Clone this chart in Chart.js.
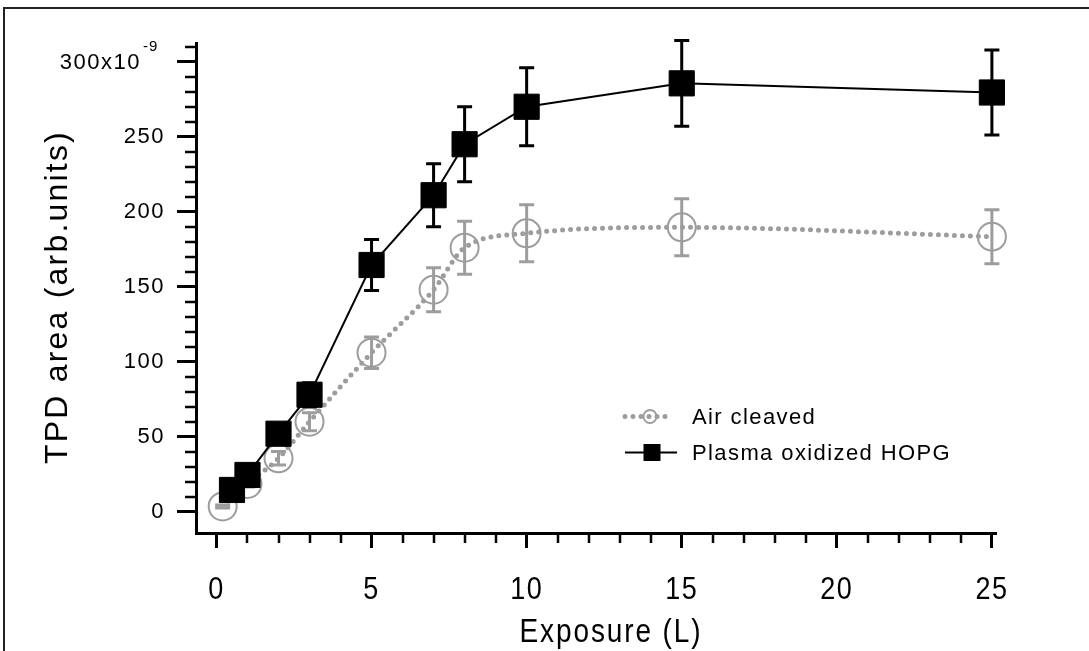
<!DOCTYPE html>
<html>
<head>
<meta charset="utf-8">
<script src="https://cdn.jsdelivr.net/npm/chart.js@4/dist/chart.umd.min.js"></script>
<style>
html,body{margin:0;padding:0;background:#fff;}
#wrap{width:1089px;height:651px;position:relative;}
canvas{display:block;}
</style>
</head>
<body>
<div id="wrap"><canvas id="c" width="1089" height="651"></canvas></div>
<script>
// ---- data (x10^-9 arb. units) ----
const airLabel = 'Air cleaved';
const airX   = [0.2, 1, 2, 3, 5, 7, 8, 10, 15, 25];
const airY   = [3.5, 18.5, 35.6, 60, 106, 148, 176, 185.6, 189.6, 183.4];
const airErr = [1, 2, 4.5, 6, 10.5, 14.7, 17.7, 19, 19, 18];

const plasmaLabel = 'Plasma oxidized HOPG';
const plasmaX   = [0.5, 1, 2, 3, 5, 7, 8, 10, 15, 25];
const plasmaY   = [14.5, 24.5, 52, 78, 164.5, 211, 245, 270, 285.6, 279.5];
const plasmaErr = [3, 4, 6, 8, 17, 21, 25, 26, 28.6, 28.3];

// ---- axes / tick labels ----
const xMajorTicks = [0, 5, 10, 15, 20, 25];
const xTickLabels = ['0', '5', '10', '15', '20', '25'];
const xMinorStep = 1;
const yMajorTicks = [0, 50, 100, 150, 200, 250, 300];
const yTickLabels = ['0', '50', '100', '150', '200', '250', '300x10'];
const yExponent = '-9';
const yMinorStep = 10;
const yMinorMax = 310;
const xTitle = 'Exposure (L)';
const yTitle = 'TPD area (arb.units)';

const FONT = "'Liberation Sans', Arial, Helvetica, sans-serif";
const GRAY = '#9d9d9d';
const BLACK = '#000000';

const toPts = (xs, ys) => xs.map((x, i) => ({x: x, y: ys[i]}));

const textSpacing = {
  id: 'textSpacing',
  beforeDraw(chart) {
    chart.ctx.letterSpacing = '1.5px';
    const s = chart.scales.x;
    if (!s._stretched) {
      const orig = s.drawLabels;
      s.drawLabels = function (area) {
        const c = this.ctx, cy = 590;
        c.save();
        c.translate(0, cy); c.scale(1, 1.19); c.translate(0, -cy);
        orig.call(this, area);
        c.restore();
      };
      s._stretched = true;
    }
  }
};

const frame = {
  id: 'frame',
  beforeDraw(chart) {
    const ctx = chart.ctx;
    ctx.save();
    ctx.strokeStyle = '#222';
    ctx.lineWidth = 2;
    ctx.beginPath();
    ctx.moveTo(4, chart.height);
    ctx.lineTo(4, 8);
    ctx.lineTo(chart.width, 8);
    ctx.stroke();
    ctx.restore();
  }
};

const errorBars = {
  id: 'errorBars',
  beforeDatasetDraw(chart, args) {
    const ds = chart.data.datasets[args.index];
    if (!ds.errors) return;
    const ctx = chart.ctx, xs = chart.scales.x, ys = chart.scales.y;
    ctx.save();
    ctx.strokeStyle = ds.errColor;
    ctx.lineWidth = 3;
    ctx.lineCap = 'butt';
    ds.data.forEach((p, i) => {
      const e = ds.errors[i];
      const px = xs.getPixelForValue(p.x);
      const t = ys.getPixelForValue(p.y + e);
      const b = ys.getPixelForValue(p.y - e);
      ctx.beginPath();
      ctx.moveTo(px, t); ctx.lineTo(px, b);
      ctx.moveTo(px - 7.5, t); ctx.lineTo(px + 7.5, t);
      ctx.moveTo(px - 7.5, b); ctx.lineTo(px + 7.5, b);
      ctx.stroke();
    });
    ctx.restore();
  }
};

const axisExtras = {
  id: 'axisExtras',
  afterDraw(chart) {
    const ctx = chart.ctx, xs = chart.scales.x, ys = chart.scales.y;
    const ca = chart.chartArea;
    ctx.save();
    // minor ticks
    ctx.strokeStyle = BLACK;
    ctx.lineWidth = 2.5;
    ctx.beginPath();
    for (let v = 0; v <= xMajorTicks[xMajorTicks.length - 1]; v += xMinorStep) {
      if (xMajorTicks.includes(v)) continue;
      const px = Math.round(xs.getPixelForValue(v));
      ctx.moveTo(px, ca.bottom); ctx.lineTo(px, ca.bottom + 10);
    }
    for (let v = 0; v <= yMinorMax; v += yMinorStep) {
      if (yMajorTicks.includes(v)) continue;
      const py = Math.round(ys.getPixelForValue(v));
      ctx.moveTo(ca.left, py); ctx.lineTo(ca.left - 11, py);
    }
    ctx.stroke();
    ctx.fillStyle = BLACK;
    // top y label with exponent
    const yTop = ys.getPixelForValue(yMajorTicks[yMajorTicks.length - 1]);
    ctx.letterSpacing = '1.5px';
    ctx.textBaseline = 'middle';
    ctx.textAlign = 'right';
    ctx.font = '22px ' + FONT;
    ctx.fillText(yTickLabels[yTickLabels.length - 1], 141, yTop + 1);
    ctx.font = '15px ' + FONT;
    ctx.letterSpacing = '1px';
    ctx.textAlign = 'left';
    ctx.fillText(yExponent, 143, yTop - 15);
    // axis titles
    ctx.textAlign = 'center';
    ctx.textBaseline = 'alphabetic';
    ctx.save();
    ctx.translate(611, 642);
    ctx.scale(1, 1.2);
    ctx.font = '28px ' + FONT;
    ctx.letterSpacing = '1.9px';
    ctx.fillText(xTitle, 0, 0);
    ctx.restore();
    ctx.save();
    ctx.translate(66.5, 297);
    ctx.rotate(-Math.PI / 2);
    ctx.font = '32px ' + FONT;
    ctx.letterSpacing = '2.2px';
    ctx.fillText(yTitle, 0, 0);
    ctx.restore();
    ctx.restore();
  }
};

const customLegend = {
  id: 'customLegend',
  afterDraw(chart) {
    const ctx = chart.ctx;
    const air = chart.data.datasets[1], pl = chart.data.datasets[0];
    ctx.save();
    let y = 416.5;
    ctx.strokeStyle = GRAY;
    ctx.lineWidth = 5;
    ctx.lineCap = 'round';
    ctx.setLineDash([0, 8]);
    ctx.beginPath(); ctx.moveTo(625, y); ctx.lineTo(668, y); ctx.stroke();
    ctx.setLineDash([]);
    ctx.lineWidth = 2;
    ctx.beginPath(); ctx.arc(650, y, 6.5, 0, Math.PI * 2); ctx.stroke();
    let y2 = 452.5;
    ctx.strokeStyle = BLACK;
    ctx.lineCap = 'butt';
    ctx.lineWidth = 2;
    ctx.beginPath(); ctx.moveTo(625, y2); ctx.lineTo(677, y2); ctx.stroke();
    ctx.fillStyle = BLACK;
    ctx.fillRect(652 - 8.5, y2 - 8.5, 17, 17);
    ctx.font = '22px ' + FONT;
    ctx.letterSpacing = '1.4px';
    ctx.textBaseline = 'middle';
    ctx.textAlign = 'left';
    ctx.fillText(air.label, 692, y + 1);
    ctx.fillText(pl.label, 692, y2 + 1);
    ctx.restore();
  }
};

new Chart(document.getElementById('c'), {
  type: 'line',
  data: {
    datasets: [
      {
        label: plasmaLabel,
        data: toPts(plasmaX, plasmaY),
        errors: plasmaErr,
        errColor: BLACK,
        borderColor: BLACK,
        borderWidth: 2,
        tension: 0,
        pointStyle: 'rect',
        pointRadius: 17.8,
        pointBorderWidth: 1,
        pointBackgroundColor: BLACK,
        pointBorderColor: BLACK,
        clip: false
      },
      {
        label: airLabel,
        data: toPts(airX, airY),
        errors: airErr,
        errColor: GRAY,
        borderColor: GRAY,
        borderWidth: 5,
        borderDash: [0, 8],
        borderCapStyle: 'round',
        cubicInterpolationMode: 'monotone',
        tension: 0.4,
        pointStyle: 'circle',
        pointRadius: 14,
        pointBorderWidth: 2,
        pointBackgroundColor: 'rgba(0,0,0,0)',
        pointBorderColor: GRAY,
        clip: false
      }
    ]
  },
  options: {
    responsive: false,
    devicePixelRatio: 1,
    animation: false,
    events: [],
    layout: { padding: { left: 0, top: 43, right: 94, bottom: 0 } },
    plugins: { legend: { display: false }, tooltip: { enabled: false } },
    scales: {
      x: {
        type: 'linear',
        min: -0.66,
        max: 25.1,
        afterBuildTicks: s => { s.ticks = xMajorTicks.map(v => ({value: v})); },
        afterFit: s => { s.height = 118; },
        grid: { display: true, drawOnChartArea: false, drawTicks: true, tickLength: 15, tickWidth: 3, tickColor: BLACK, lineWidth: 3, color: BLACK },
        border: { display: true, color: BLACK, width: 3 },
        ticks: {
          autoSkip: false, maxRotation: 0, padding: 26, color: BLACK,
          font: { family: FONT, size: 27 },
          callback: (v, i) => xTickLabels[i]
        },
        title: { display: false, text: xTitle }
      },
      y: {
        type: 'linear',
        min: -14.2,
        max: 312.5,
        afterBuildTicks: s => { s.ticks = yMajorTicks.map(v => ({value: v})); },
        afterFit: s => { s.width = 196; },
        grid: { display: true, drawOnChartArea: false, drawTicks: true, tickLength: 19, tickWidth: 3, tickColor: BLACK, lineWidth: 3, color: BLACK },
        border: { display: true, color: BLACK, width: 3 },
        ticks: {
          autoSkip: false, padding: 12, color: BLACK,
          font: { family: FONT, size: 22 },
          callback: (v, i) => (i === yMajorTicks.length - 1 ? '' : yTickLabels[i])
        },
        title: { display: false, text: yTitle }
      }
    }
  },
  plugins: [textSpacing, frame, errorBars, axisExtras, customLegend]
});
</script>
</body>
</html>
